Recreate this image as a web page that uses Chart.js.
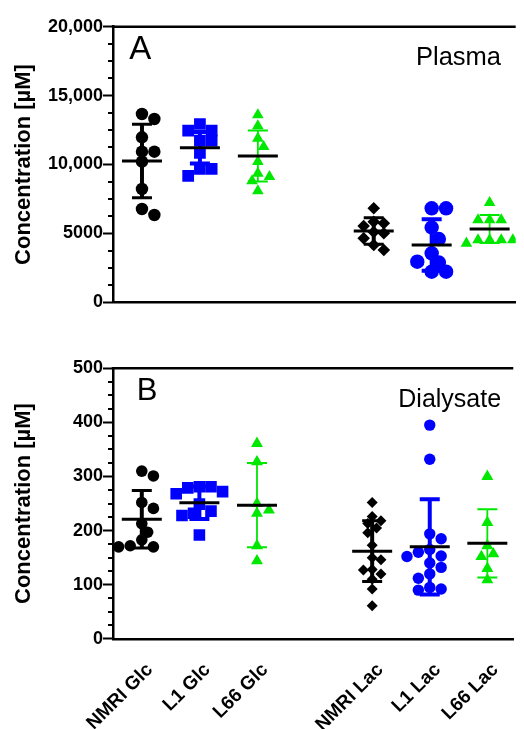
<!DOCTYPE html>
<html><head><meta charset="utf-8">
<script src="https://cdn.jsdelivr.net/npm/chart.js@4.4.1/dist/chart.umd.min.js"></script>
<style>
html,body{margin:0;padding:0;background:#fff;}
#wrap{position:relative;width:524px;height:729px;overflow:hidden;background:#fff;}
canvas{position:absolute;left:0;}
#cA{top:0;} #cB{top:330px;}
</style></head><body>
<div id="wrap"><canvas id="cA" width="524" height="330"></canvas><canvas id="cB" width="524" height="399"></canvas></div>
<script>
// ---------- DATA ----------
const categories = ['NMRI Glc', 'L1 Glc', 'L66 Glc', '', 'NMRI Lac', 'L1 Lac', 'L66 Lac'];
const groupNames = ['NMRI Glc', 'L1 Glc', 'L66 Glc', 'NMRI Lac', 'L1 Lac', 'L66 Lac'];

// Panel A: Plasma [µM]
const plasmaNMRIGlc = [13665, 13302, 11974, 10929, 10929, 10203, 8222, 6771, 6335];
const plasmaL1Glc   = [12939, 12453, 12453, 11727, 11727, 10835, 9674, 9674, 9166];
const plasmaL66Glc  = [13592, 12794, 11901, 11292, 10203, 9361, 9115, 8803, 8077];
const plasmaNMRILac = [6821, 5849, 5733, 5537, 5100, 5007, 4644, 4158, 3795];
const plasmaL1Lac   = [6821, 6821, 5428, 4594, 3556, 2946, 2888, 2221, 2221];
const plasmaL66Lac  = [7228, 5972, 5972, 5972, 4521, 4521, 4521, 4521, 4282];
const plasmaMean = [10254, 11219, 10617, 5174, 4158, 5319];
const plasmaSD   = [2660, 1143, 1850, 965, 1865, 1016];

// Panel B: Dialysate [µM]
const dialNMRIGlc = [310, 301, 252, 241, 213, 197, 183, 172, 170, 170];
const dialL1Glc   = [281, 281, 279, 272, 268, 249, 236, 232, 228, 192];
const dialL66Glc  = [361, 327, 250, 238, 232, 172, 144];
const dialNMRILac = [252, 226, 218, 213, 205, 196, 173, 150, 146, 128, 127, 120, 110, 92, 61];
const dialL1Lac   = [395, 332, 194, 185, 165, 160, 153, 152, 140, 132, 120, 112, 95, 92, 90];
const dialL66Lac  = [300, 215, 172, 157, 152, 130, 109];
const dialMean = [221, 251.6, 247, 162, 170, 176.5];
const dialSD   = [53, 30, 78, 56, 88, 63];

const yTicksA = [0, 5000, 10000, 15000, 20000];
const yTickLabelsA = ['0', '5000', '10,000', '15,000', '20,000'];
const yTicksB = [0, 100, 200, 300, 400, 500];
const yTickLabelsB = ['0', '100', '200', '300', '400', '500'];

// ---------- STYLE ----------
const FONT = "'Liberation Sans', Arial, Helvetica, sans-serif";
const BLUE = '#0000ff', GREEN = '#00e800', BLACK = '#000000';
const groupStyle = [
  {color: BLACK, shape: 'circle',   k: 2.0,  barW: 4,   capW: 3},
  {color: BLUE,  shape: 'rect',     k: 1.414, barW: 4,  capW: 4},
  {color: GREEN, shape: 'triangle', k: 1.732, barW: 1.8, capW: 2},
  {color: BLACK, shape: 'rectRot',  k: 1.6,  barW: 4,   capW: 3},
  {color: BLUE,  shape: 'circle',   k: 2.0,  barW: 4,   capW: 4},
  {color: GREEN, shape: 'triangle', k: 1.732, barW: 1.8, capW: 2}
];
const slotOf = groupNames.map(n => categories.indexOf(n));

const decor = {
  id: 'decor',
  afterDatasetsDraw(chart, args, o) {
    const {ctx} = chart; const xs = chart.scales.x, ys = chart.scales.y;
    ctx.save();
    o.means.forEach((m, g) => {
      const st = groupStyle[g];
      const cx = xs.getPixelForValue(slotOf[g]);
      const yT = ys.getPixelForValue(m + o.sds[g]);
      const yB = ys.getPixelForValue(m - o.sds[g]);
      const yM = ys.getPixelForValue(m);
      ctx.strokeStyle = st.color; ctx.lineCap = 'butt';
      ctx.lineWidth = st.barW;
      ctx.beginPath(); ctx.moveTo(cx, yT); ctx.lineTo(cx, yB); ctx.stroke();
      ctx.lineWidth = st.capW;
      ctx.beginPath();
      ctx.moveTo(cx - 10, yT); ctx.lineTo(cx + 10, yT);
      ctx.moveTo(cx - 10, yB); ctx.lineTo(cx + 10, yB);
      ctx.stroke();
      ctx.strokeStyle = BLACK; ctx.lineWidth = 3;
      ctx.beginPath(); ctx.moveTo(cx - 20, yM); ctx.lineTo(cx + 20, yM); ctx.stroke();
    });
    ctx.restore();
  },
  afterDraw(chart, args, o) {
    const {ctx, chartArea: ca} = chart; const ys = chart.scales.y;
    ctx.save();
    ctx.strokeStyle = BLACK; ctx.lineWidth = 2.5;
    ctx.beginPath(); ctx.moveTo(ca.left - 1.25, ca.top); ctx.lineTo(ca.right, ca.top); ctx.stroke();
    ctx.lineWidth = 2;
    ctx.beginPath();
    for (let v = ys.min; v <= ys.max + 1e-9; v += o.minor) {
      if (Math.abs(v / o.major - Math.round(v / o.major)) < 1e-6) continue;
      const py = Math.round(ys.getPixelForValue(v));
      ctx.moveTo(ca.left - 5, py); ctx.lineTo(ca.left, py);
    }
    ctx.stroke();
    ctx.fillStyle = BLACK; ctx.textBaseline = 'alphabetic'; ctx.textAlign = 'left';
    o.texts.forEach(t => {
      ctx.font = t.size + 'px ' + FONT;
      ctx.fillText(t.text, ca.left + t.dx, ca.top + t.dy);
    });
    ctx.restore();
  }
};

function makeChart(id, series, means, sds, cfg) {
  const datasets = series.map((vals, g) => ({
    label: groupNames[g],
    data: vals.map(v => ({x: slotOf[g], y: v})),
    pointStyle: groupStyle[g].shape,
    pointRadius: cfg.radii[g],
    pointHoverRadius: cfg.radii[g],
    backgroundColor: groupStyle[g].color,
    borderColor: groupStyle[g].color,
    borderWidth: 0,
    showLine: false
  }));
  const chart = new Chart(document.getElementById(id), {
    type: 'scatter',
    data: {datasets},
    options: {
      responsive: false, animation: false, devicePixelRatio: 1,
      layout: {padding: {top: cfg.padTop, right: 0, left: 0, bottom: 0}},
      plugins: {
        legend: {display: false}, tooltip: {enabled: false},
        decor: {means, sds, minor: cfg.minor, major: cfg.major, texts: cfg.texts}
      },
      scales: {
        x: {
          type: 'linear', min: -0.5, max: 6.45,
          afterBuildTicks: s => { s.ticks = categories.map((c, i) => ({value: i})).filter(t => categories[t.value]); },
          afterFit: s => { s.height = cfg.xHeight; },
          grid: {display: false, drawTicks: false},
          border: {display: true, color: BLACK, width: 2.5},
          ticks: {
            display: cfg.showX, autoSkip: false, maxRotation: 45, minRotation: 45, padding: 20, labelOffset: 8,
            color: BLACK, font: {family: FONT, size: 19, weight: 'bold'},
            callback: v => categories[v]
          }
        },
        y: {
          type: 'linear', min: cfg.yTicks[0], max: cfg.yTicks[cfg.yTicks.length - 1],
          afterBuildTicks: s => { s.ticks = cfg.yTicks.map(v => ({value: v})); },
          afterFit: s => { s.width = 113; },
          grid: {display: true, drawOnChartArea: false, drawTicks: true, tickLength: 10, tickWidth: 2, tickColor: BLACK},
          border: {display: true, color: BLACK, width: 2.5},
          ticks: {
            padding: 0, color: BLACK, font: {family: FONT, size: 18, weight: 'bold'},
            callback: v => cfg.yLabels[cfg.yTicks.indexOf(v)]
          },
          title: {display: true, text: 'Concentration [µM]', color: BLACK,
                  font: {family: FONT, size: 22, weight: 'bold'}, padding: {top: 11, bottom: 0}}
        }
      }
    },
    plugins: [decor]
  });
  // beeswarm layout computed from the chart's own scales
  const xs = chart.scales.x, ys = chart.scales.y;
  const ppu = xs.getPixelForValue(1) - xs.getPixelForValue(0);
  series.forEach((vals, g) => {
    const d = cfg.radii[g] * groupStyle[g].k;
    const step = d / 2;
    const order = vals.map((v, i) => i).sort((a, b) => vals[b] - vals[a]);
    const placed = [];
    order.forEach(i => {
      const py = ys.getPixelForValue(vals[i]);
      const near = placed.filter(p => Math.abs(p.y - py) < 2 * d);
      const bal = near.reduce((s, p) => s + Math.sign(p.x), 0);
      let best = null;
      for (let k = 0; k < 60 && best === null; k++) {
        const cands = k === 0 ? [0] : (bal > 0 ? [-k * step, k * step] : [k * step, -k * step]);
        for (const c of cands) {
          if (placed.every(p => Math.hypot(p.x - c, p.y - py) >= d * 0.8)) { best = c; break; }
        }
      }
      placed.push({x: best, y: py});
      chart.data.datasets[g].data[i].x = slotOf[g] + best / ppu;
    });
  });
  chart.update('none');
  return chart;
}

makeChart('cA',
  [plasmaNMRIGlc, plasmaL1Glc, plasmaL66Glc, plasmaNMRILac, plasmaL1Lac, plasmaL66Lac],
  plasmaMean, plasmaSD,
  {padTop: 26.7, xHeight: 27.7, showX: false, yTicks: yTicksA, yLabels: yTickLabelsA,
   minor: 1250, major: 5000, radii: [6.2, 8.3, 6.7, 6.3, 7.2, 6.7],
   texts: [{text: 'A', dx: 16.3, dy: 32.6, size: 33}, {text: 'Plasma', dx: 303, dy: 38.3, size: 25.5}]});

makeChart('cB',
  [dialNMRIGlc, dialL1Glc, dialL66Glc, dialNMRILac, dialL1Lac, dialL66Lac],
  dialMean, dialSD,
  {padTop: 38.3, xHeight: 90.2, showX: true, yTicks: yTicksB, yLabels: yTickLabelsB,
   minor: 25, major: 100, radii: [5.8, 8.2, 6.9, 5.5, 5.7, 6.9],
   texts: [{text: 'B', dx: 23.7, dy: 31.7, size: 31}, {text: 'Dialysate', dx: 285.3, dy: 38.4, size: 25}]});
</script>
</body></html>
